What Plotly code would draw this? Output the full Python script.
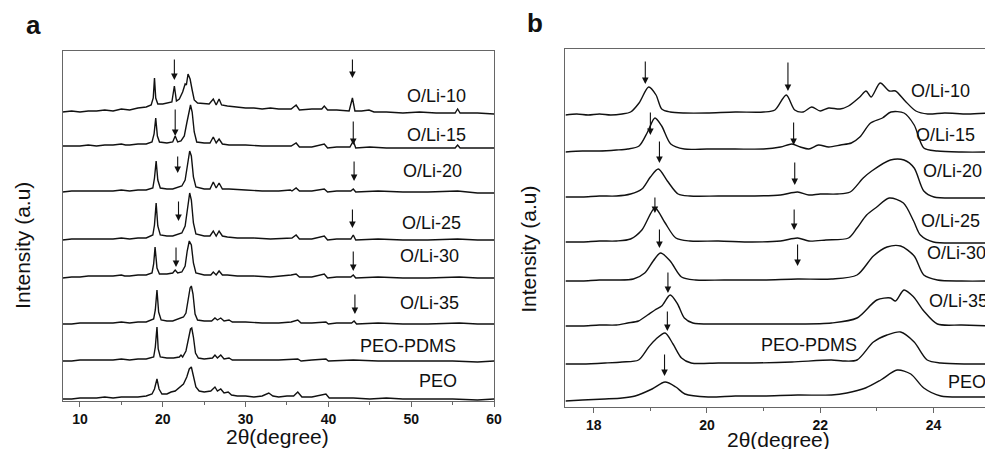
import plotly.graph_objects as go

# ---- data: 2-theta (deg) vs intensity above each trace's own baseline (a.u.) ----
names = ['O/Li-10', 'O/Li-15', 'O/Li-20', 'O/Li-25', 'O/Li-30', 'O/Li-35', 'PEO-PDMS', 'PEO']

# panel a, 2theta 8-60
a_oli10 = [(7.9,0),(9,1),(10,0),(11,1),(12,1),(13,2),(14,1),(15,3),(16,2),(17,4),(18,5),(18.6,7),(18.85,14),(19.0,34),(19.15,14),(19.4,8),(20,8),(20.6,9),(21.1,10),(21.4,26),(21.65,11),(22.0,13),(22.4,20),(22.7,28),(22.85,27),(23.05,38),(23.3,33),(23.55,22),(23.8,12),(24.2,9),(25,8),(25.6,8),(26.1,13),(26.45,7),(26.8,13),(27.1,7),(27.8,6),(29,5),(30,4),(31,4),(32,3),(33,4),(34,3),(35.5,3),(36.1,7),(36.5,2),(38,3),(39.2,3),(39.5,6),(39.9,2),(41,2),(42.5,1),(42.9,14),(43.2,1),(44,1),(44.9,2),(45.5,0),(47,0),(49,-1),(51,0),(53,-1),(55.3,-1),(55.6,3),(55.9,-1),(58,-1),(60,-2)]
a_oli15 = [(7.9,2),(9,2),(10,2),(11,3),(12,2),(13,3),(14,3),(15,4),(15.5,3),(16,3),(17,4),(18,4),(18.7,6),(18.95,14),(19.15,30),(19.35,12),(19.6,6),(20.5,5),(21.2,6),(21.5,12),(21.8,6),(22.2,7),(22.6,12),(22.9,25),(23.2,40),(23.35,43),(23.55,36),(23.8,16),(24.1,6),(25,5),(25.7,5),(26.1,11),(26.45,5),(26.8,9),(27.2,4),(28,3),(30,3),(32,2),(34,2),(35.5,2),(36.1,5),(36.5,1),(38,1),(39.5,4),(39.9,0),(41,1),(42.6,1),(43.0,7),(43.3,0),(45,1),(47,0),(50,0),(52,0),(55.3,0),(55.6,3),(55.9,0),(58,0),(60,0)]
a_oli20 = [(7.9,0),(9,1),(10,1),(11,1),(12,1),(13,1),(14,1),(15,2),(16,1),(17,2),(18,2),(18.8,4),(19.0,14),(19.2,31),(19.4,12),(19.7,4),(20.5,3),(21.2,3),(21.5,4),(21.9,5),(22.3,6),(22.7,12),(23.0,28),(23.25,41),(23.45,36),(23.7,15),(24.0,5),(25,3),(25.7,3),(26.1,10),(26.45,4),(26.8,9),(27.2,3),(28,3),(30,2),(32,1),(34,1),(35.4,2),(35.6,1),(36.1,4),(36.5,1),(38,1),(39.5,3),(39.9,0),(41,1),(42.7,1),(43.0,3),(43.3,0),(46,1),(49,0),(52,0),(55.6,1),(58,-1),(60,-1)]
a_oli25 = [(7.9,0),(9,1),(10,1),(11,1),(12,1),(13,1),(14,1),(15,2),(16,1),(17,2),(18,2),(18.8,5),(19.0,15),(19.2,37),(19.4,14),(19.7,5),(20.5,4),(21.2,4),(21.5,5),(21.9,6),(22.3,7),(22.7,14),(23.0,30),(23.25,47),(23.45,40),(23.7,17),(24.0,6),(25,4),(25.7,4),(26.1,9),(26.45,4),(26.8,9),(27.2,4),(27.8,3),(29,2),(31,2),(33,1),(35,2),(35.6,2),(36.1,5),(36.5,1),(38,1),(39.5,4),(39.9,0),(41,1),(42.7,1),(43.0,5),(43.3,0),(46,1),(49,0),(52,0),(55.6,1),(58,0),(60,0)]
a_oli30 = [(7.9,0),(9,1),(10,1),(11,2),(12,2),(13,2),(14,2),(15,3),(15.4,2),(16,2),(17,3),(18,3),(18.7,5),(18.9,14),(19.07,31),(19.3,10),(19.6,4),(20.5,4),(21.2,5),(21.5,8),(21.8,5),(22.3,6),(22.7,12),(22.95,27),(23.2,37),(23.45,33),(23.7,15),(24.0,5),(25,3),(25.8,3),(26.1,6),(26.45,3),(26.8,7),(27.2,3),(27.8,3),(29,2),(31,2),(33,1),(35,2),(35.5,3),(36.1,4),(36.5,1),(38,1),(39.5,4),(39.9,0),(41,1),(42.7,1),(43.0,3),(43.3,0),(46,1),(49,0),(52,0),(55.8,1),(58,0),(60,0)]
a_oli35 = [(7.9,0),(9,0),(10,1),(11,1),(12,1),(13,1),(14,1),(15,2),(16,1),(17,2),(18,2),(18.9,5),(19.1,14),(19.3,34),(19.5,12),(19.8,4),(20.5,3),(21.2,3),(22,5),(22.5,7),(22.8,11),(23.1,24),(23.3,36),(23.45,38),(23.65,30),(23.9,10),(24.2,4),(25,3),(25.9,3),(26.3,6),(26.6,4),(27.0,6),(27.4,3),(28.0,4),(28.4,2),(30,2),(32,1),(34,1),(35.5,2),(36.3,4),(36.7,1),(38,1),(39.7,2),(40.0,0),(41,1),(42.8,1),(43.1,3),(43.4,0),(46,1),(49,0),(52,0),(55.8,1),(58,0),(60,0)]
a_peopdms = [(7.9,0),(9,0),(10,1),(11,1),(12,1),(13,1),(14,1),(15,2),(16,1),(17,2),(18,2),(18.9,4),(19.1,14),(19.3,34),(19.45,12),(19.7,4),(20.5,3),(21.3,3),(22.0,4),(22.2,6),(22.4,4),(22.8,10),(23.1,24),(23.35,32),(23.5,33),(23.7,24),(23.95,8),(24.3,3),(25,2),(26.0,3),(26.3,6),(26.6,3),(27.0,6),(27.4,2),(28.0,3),(28.4,1),(30,1),(32,1),(34,1),(36.3,2),(36.7,0),(38,1),(39.7,2),(40.0,0),(43,1),(46,0),(49,0),(52,0),(55,0),(58,-1),(60,0)]
a_peo = [(7.9,0),(9,0),(10,1),(11,1),(12,1),(13,2),(14,1),(15,2),(16,2),(17,2),(18,3),(18.7,5),(19.0,10),(19.3,20),(19.55,10),(19.9,5),(20.5,5),(21.0,7),(21.5,8),(22.0,12),(22.5,15),(22.9,22),(23.2,30),(23.45,32),(23.7,24),(24.0,12),(24.4,8),(25,7),(25.8,8),(26.3,12),(26.6,8),(27.0,10),(27.4,6),(27.9,7),(28.3,4),(29,3),(30,3),(31,2),(32,3),(32.8,6),(33.3,3),(34,2),(35,3),(35.8,3),(36.3,7),(36.8,2),(38,2),(39.7,5),(40.1,1),(41,1),(43,1),(45,0),(47,1),(49,0),(52,0),(55,0),(58,-1),(60,0)]

# panel b, 2theta 17.5-25
b_oli10 = [(17.5,0),(17.7,1),(17.9,0),(18.1,1),(18.3,0),(18.5,1),(18.65,3),(18.8,12),(18.97,28),(19.1,20),(19.2,6),(19.35,3),(19.6,2),(20.0,2),(20.5,3),(21.0,3),(21.2,5),(21.4,20),(21.55,5),(21.7,3),(21.85,8),(22.0,4),(22.15,7),(22.35,6),(22.5,9),(22.7,18),(22.81,24),(22.9,18),(23.06,32),(23.22,24),(23.33,24),(23.5,14),(23.69,4),(23.9,1),(24.2,2),(24.6,1),(25.0,2)]
b_oli15 = [(17.5,0),(17.8,1),(18.1,1),(18.4,2),(18.6,3),(18.8,6),(18.95,20),(19.08,34),(19.2,26),(19.36,8),(19.6,3),(20.0,3),(20.5,3),(21.0,3),(21.3,5),(21.5,8),(21.65,5),(21.8,3),(21.97,7),(22.15,5),(22.36,7),(22.55,9),(22.7,15),(22.89,29),(23.1,34),(23.25,40),(23.48,39),(23.66,27),(23.83,4),(24.07,1),(24.5,0),(25.0,0)]
b_oli20 = [(17.5,0),(17.8,0),(18.1,1),(18.4,1),(18.65,3),(18.85,8),(19.0,20),(19.14,28),(19.3,16),(19.49,3),(19.7,1),(20.2,1),(20.8,1),(21.3,2),(21.6,5),(21.8,2),(22.0,3),(22.3,3),(22.53,5),(22.76,19),(22.91,26),(23.24,37),(23.48,37),(23.66,29),(23.83,6),(24.01,0),(24.5,-1),(25.0,-1)]
b_oli25 = [(17.5,0),(17.8,0),(18.1,1),(18.4,1),(18.65,3),(18.85,12),(19.08,34),(19.25,20),(19.45,4),(19.7,1),(20.2,1),(20.8,0),(21.3,1),(21.6,4),(21.8,1),(22.1,2),(22.5,4),(22.65,14),(22.82,27),(23.0,35),(23.22,44),(23.47,39),(23.65,21),(23.77,7),(24.0,0),(24.5,-1),(25.0,-1)]
b_oli30 = [(17.5,0),(17.8,0),(18.1,1),(18.4,1),(18.7,2),(18.9,8),(19.05,20),(19.18,28),(19.35,20),(19.55,4),(19.8,1),(20.3,1),(21.0,1),(21.6,2),(22.2,2),(22.65,6),(22.94,25),(23.18,34),(23.42,35),(23.66,25),(23.83,6),(24.07,1),(24.5,0),(25.0,0)]
b_oli35 = [(17.5,0),(17.8,0),(18.1,1),(18.4,1),(18.6,3),(18.79,5),(18.95,11),(19.08,16),(19.2,20),(19.35,31),(19.48,22),(19.6,8),(19.75,3),(20.2,2),(20.8,2),(21.5,2),(22.2,3),(22.65,8),(23.0,26),(23.24,28),(23.33,25),(23.48,36),(23.65,29),(23.83,15),(24.07,2),(24.5,1),(25.0,0)]
b_peopdms = [(17.5,0),(17.8,0),(18.2,1),(18.5,2),(18.79,4),(18.97,17),(19.1,25),(19.26,31),(19.4,20),(19.55,6),(19.72,1),(20.2,1),(20.8,1),(21.5,2),(22.2,4),(22.4,3),(22.65,4),(22.94,22),(23.18,29),(23.42,32),(23.66,22),(23.89,4),(24.13,1),(24.6,0),(25.0,0)]
b_peo = [(17.5,0),(17.8,1),(18.2,2),(18.5,3),(18.73,5),(19.03,12),(19.26,19),(19.45,14),(19.61,7),(20.02,4),(20.5,5),(21.0,5),(21.6,6),(22.2,6),(22.47,8),(22.8,13),(23.07,21),(23.36,31),(23.6,27),(23.83,13),(24.13,5),(24.6,4),(25.0,4)]

# vertical stacking offsets of each trace
offsets_a = [289, 253, 209, 161, 123, 77, 40, 2]
offsets_b = [292, 255, 210, 165, 126, 81, 43, 6]

# arrow marks: (2theta, tip y, tail y)
arrows_a = [(21.4,321,343),(42.9,323,343),(21.5,265,293),(43.0,256,281),(21.8,228,246),(43.1,220,241),
            (21.9,180,201),(42.9,173,193),(21.6,134,155),(43.0,130,151),(43.2,87,108)]
arrows_b = [(18.91,323,347),(21.43,316,346),(19.0,272,296),(21.53,262,286),(19.16,244,267),(21.55,222,246),
            (19.08,194,211),(21.54,177,199),(19.16,159,179),(21.6,141,164),(19.31,114,136),(19.30,76,97),(19.25,31,54)]

# label positions (2theta, y)
labels_a = [(53.05,305),(53.05,266),(52.6,230),(52.5,178),(52.2,145),(52.2,98),(49.6,55),(53.2,20)]
labels_b = [(24.12,316),(24.22,272),(24.33,236),(24.31,186),(24.4,154),(24.45,106),(21.8,62),(24.6,25)]

FONT = 'Liberation Sans, Arial, sans-serif'

fig = go.Figure()

for curve, off in zip([a_oli10, a_oli15, a_oli20, a_oli25, a_oli30, a_oli35, a_peopdms, a_peo], offsets_a):
    fig.add_trace(go.Scatter(x=[p[0] for p in curve], y=[p[1] + off for p in curve],
                             mode='lines', line=dict(color='#111', width=1.4),
                             xaxis='x', yaxis='y', showlegend=False))

for curve, off in zip([b_oli10, b_oli15, b_oli20, b_oli25, b_oli30, b_oli35, b_peopdms, b_peo], offsets_b):
    fig.add_trace(go.Scatter(x=[p[0] for p in curve], y=[p[1] + off for p in curve],
                             mode='lines', line=dict(color='#111', width=1.4, shape='spline', smoothing=0.8),
                             xaxis='x2', yaxis='y2', showlegend=False))

ann = []
for (x, y), n in zip(labels_a, names):
    ann.append(dict(x=x, y=y, xref='x', yref='y', text=n, showarrow=False,
                    font=dict(size=18, color='#111', family=FONT)))
for (x, y), n in zip(labels_b, names):
    ann.append(dict(x=x, y=y, xref='x2', yref='y2', text=n, showarrow=False,
                    font=dict(size=18, color='#111', family=FONT)))
for x, tip, tail in arrows_a:
    ann.append(dict(x=x, y=tip, ax=x, ay=tail, xref='x', yref='y', axref='x', ayref='y', text='',
                    showarrow=True, arrowhead=2, arrowsize=1.2, arrowwidth=1.1, arrowcolor='#111'))
for x, tip, tail in arrows_b:
    ann.append(dict(x=x, y=tip, ax=x, ay=tail, xref='x2', yref='y2', axref='x2', ayref='y2', text='',
                    showarrow=True, arrowhead=2, arrowsize=1.2, arrowwidth=1.1, arrowcolor='#111'))

# panel letters and axis titles (centred on pixel positions)
def paper_text(px, py, text, size, angle=0):
    return dict(x=px/993, y=1-py/449, xref='paper', yref='paper', xanchor='center', yanchor='middle',
                text=text, textangle=angle, showarrow=False,
                font=dict(size=size, family=FONT, color='#111'))

ann += [
    paper_text(26, 17, '<b>a</b>', 26),
    paper_text(531, 15, '<b>b</b>', 26),
    paper_text(272, 428, '2θ(degree)', 21),
    paper_text(777, 431, '2θ(degree)', 21),
    paper_text(15, 237, 'Intensity (a.u)', 21, -90),
    paper_text(524, 241, 'Intensity (a.u)', 21, -90),
]

axis_common = dict(showline=True, linecolor='#666', linewidth=1.2, mirror=True, showgrid=False,
                   zeroline=False, ticks='outside', ticklen=5, tickcolor='#666',
                   tickfont=dict(size=14, family=FONT, color='#111', weight='bold'))

fig.update_layout(
    width=993, height=449,
    margin=dict(l=0, r=0, t=0, b=0),
    paper_bgcolor='white', plot_bgcolor='white',
    xaxis=dict(domain=[55/993, 490/993], range=[7.9, 60], tick0=10, dtick=10,
               minor=dict(dtick=5, ticks='outside', ticklen=3, tickcolor='#666'), **axis_common),
    yaxis=dict(domain=[1-393/449, 1-43/449], range=[0, 350], showline=True, linecolor='#666',
               linewidth=1.2, mirror=True, showgrid=False, zeroline=False, showticklabels=False),
    xaxis2=dict(domain=[562/993, 990/993], range=[17.5, 25], tick0=18, dtick=2, anchor='y2',
                minor=dict(dtick=1, ticks='outside', ticklen=3, tickcolor='#666'), **axis_common),
    yaxis2=dict(domain=[1-399/449, 1-41/449], range=[0, 358], anchor='x2', showline=True,
                linecolor='#666', linewidth=1.2, mirror=True, showgrid=False, zeroline=False,
                showticklabels=False),
    annotations=ann,
)

fig.write_html("out.html")
